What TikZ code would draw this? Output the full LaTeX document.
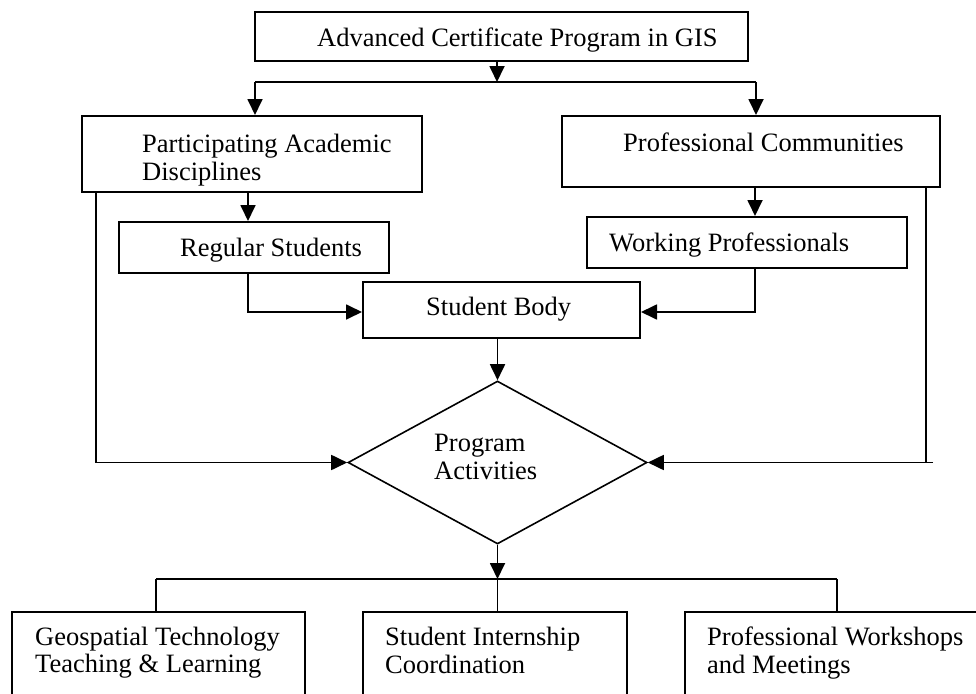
\documentclass[tikz,border=0pt]{standalone}
\usepackage{fontspec}
\setmainfont{Liberation Serif}
\usetikzlibrary{arrows.meta,shapes.geometric}
\begin{document}
\begin{tikzpicture}[x=1pt,y=-1pt,
  box/.style={draw, line width=2pt, inner sep=0pt},
  decision/.style={draw, diamond, line width=1.6pt, inner sep=0pt},
  lbl/.style={anchor=base west, inner sep=0pt, font=\fontsize{26.5}{28}\selectfont},
  link/.style={line width=1.8pt},
  arr/.style={link, -{Triangle[length=16pt,width=15pt]}}]
\useasboundingbox (0,0) rectangle (976,693);

% boxes
\node[box, minimum width=493pt, minimum height=49pt] (top)  at (501.5,36.5) {};
\node[box, minimum width=340pt, minimum height=76pt] (pad)  at (252,154) {};
\node[box, minimum width=378pt, minimum height=71pt] (pc)   at (751,151.5) {};
\node[box, minimum width=270pt, minimum height=51pt] (reg)  at (254,247.5) {};
\node[box, minimum width=320pt, minimum height=51pt] (work) at (747,242.5) {};
\node[box, minimum width=277pt, minimum height=56pt] (sb)   at (501.5,310) {};
\node[decision, minimum width=299pt, minimum height=163pt] (pa) at (497.5,462.5) {};
\node[box, minimum width=293pt, minimum height=118pt] (geo)  at (158.5,671) {};
\node[box, minimum width=264pt, minimum height=118pt] (intern) at (495,671) {};
\node[box, minimum width=305pt, minimum height=118pt] (work2) at (837.5,671) {};

% labels
\node[lbl] (top-t)  at (317,47)  {Advanced Certificate Program in GIS};
\node[lbl] (pad-t1) at (142,152) {Participating Academic};
\node[lbl] (pad-t2) at (142,180) {Disciplines};
\node[lbl] (pc-t)   at (623,151) {Professional Communities};
\node[lbl] (reg-t)  at (180,256) {Regular Students};
\node[lbl] (work-t) at (609,251) {Working Professionals};
\node[lbl] (sb-t)   at (426,315) {Student Body};
\node[lbl] (pa-t1)  at (434,451) {Program};
\node[lbl] (pa-t2)  at (434,479) {Activities};
\node[lbl] (geo-t1) at (35,645)  {Geospatial Technology};
\node[lbl] (geo-t2) at (35,672)  {Teaching \& Learning};
\node[lbl] (int-t1) at (385,645) {Student Internship};
\node[lbl] (int-t2) at (385,673) {Coordination};
\node[lbl] (ws-t1)  at (707,645) {Professional Workshops};
\node[lbl] (ws-t2)  at (707,673) {and Meetings};

% split points
\coordinate (split1) at (497,82);
\coordinate (lt) at (255,82);
\coordinate (rt) at (756,82);
\coordinate (split2) at (497.5,579);
\coordinate (bl) at (156,579);
\coordinate (br) at (837,579);
\coordinate (rext) at (933,462.5);

% top level split
\draw[arr] (top.south -| split1) -- (split1);
\draw[link] (lt) -- (rt);
\draw[arr] (lt) -- (lt |- pad.north);
\draw[arr] (rt) -- (rt |- pc.north);

% disciplines and communities to their students
\draw[arr] ([xshift=-4pt]pad.south) -- ([xshift=-4pt]pad.south |- reg.north);
\draw[arr] ([xshift=4pt]pc.south) -- ([xshift=4pt]pc.south |- work.north);

% students into the student body
\draw[arr] ([xshift=-6pt]reg.south) |- ([yshift=-2pt]sb.west);
\draw[arr] ([xshift=8pt]work.south) |- ([yshift=-2pt]sb.east);

% into program activities
\draw[arr] (sb.south -| pa.north) -- (pa.north);
\draw[arr] ([xshift=15pt]pad.south west) |- (pa.west);
\draw[link] ([xshift=-15pt]pc.south east) -- ([xshift=-15pt]pc.south east |- pa.east);
\draw[arr] (rext) -- (pa.east);

% program activities split
\draw[arr] (pa.south) -- (split2);
\draw[link] (bl) -- (br);
\draw[link] (bl) -- (bl |- geo.north);
\draw[link] (split2) -- (split2 |- intern.north);
\draw[link] (br) -- (br |- work2.north);
\end{tikzpicture}
\end{document}
